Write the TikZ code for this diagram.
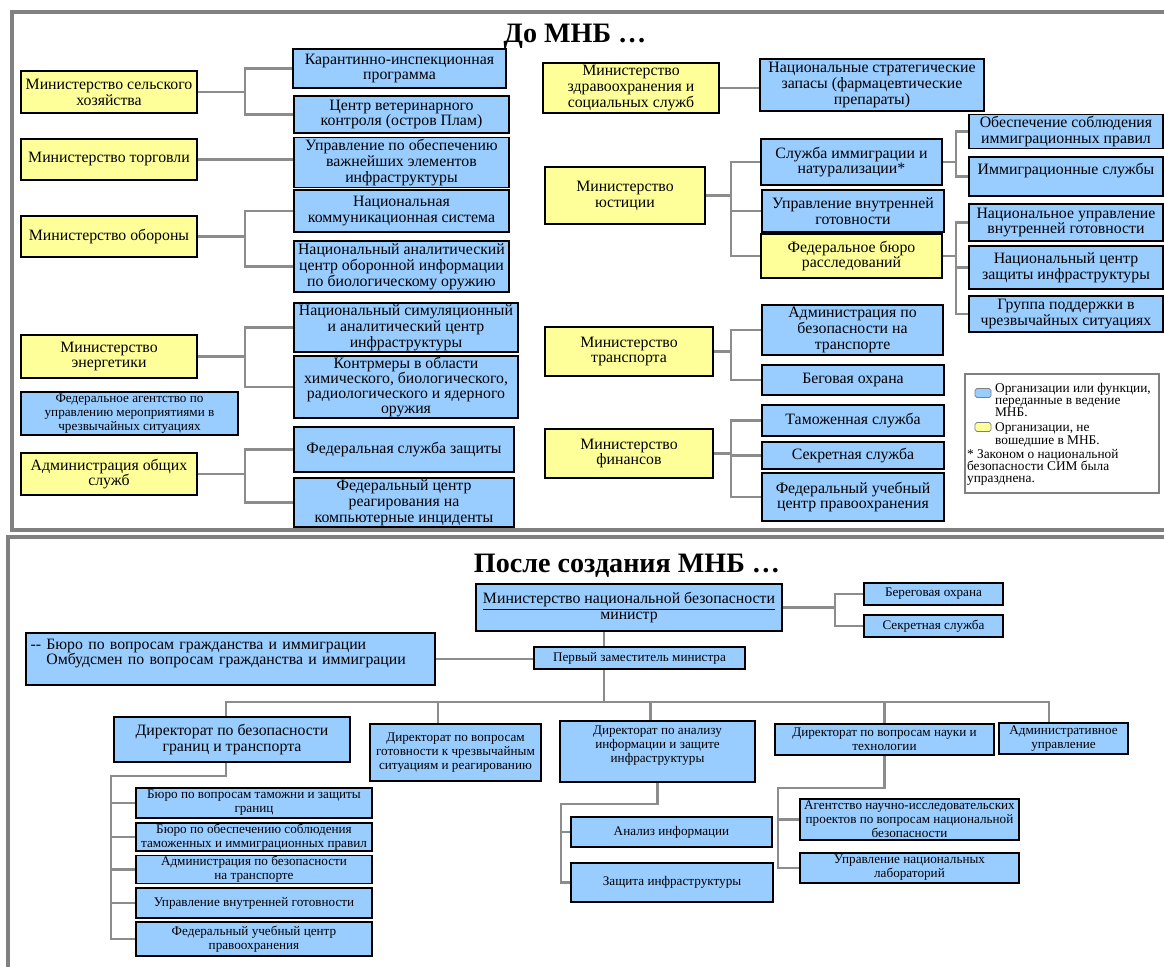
\documentclass[tikz,border=0pt]{standalone}
\usepackage{fontspec}
\setmainfont{Liberation Serif}
\definecolor{mnbblue}{RGB}{153,204,255}
\definecolor{mnbyel}{RGB}{255,255,153}
\definecolor{panelgray}{RGB}{128,128,128}
\tikzset{
    box/.style={draw=black,line width=0.9pt,align=center,inner sep=1pt,font=\fontsize{9}{9}\selectfont},
    blu/.style={box,fill=mnbblue},
    yel/.style={box,fill=mnbyel},
    smallf/.style={font=\fontsize{7.5}{8}\selectfont},
    legtext/.style={align=left,inner sep=1pt,font=\fontsize{7.6}{7}\selectfont},
    sz/.style 2 args={minimum width=#1*0.02cm,minimum height=#2*0.02cm},
    con/.style={draw=gray!90,line width=1.2pt},
    panel/.style={draw=panelgray,line width=1.8pt}
}

\begin{document}
\begin{tikzpicture}[x=0.02cm,y=-0.02cm]
  \clip (0,0) rectangle (1164,967);

  % frames and titles
  \draw[panel] (12,12) rectangle (1190,530);
  \draw[panel] (8,537) rectangle (1190,990);
  \node[font=\bfseries\fontsize{16}{16}\selectfont] (titlebefore) at (575,36) {До МНБ …};
  \node[font=\bfseries\fontsize{16}{16}\selectfont] (titleafter) at (627,566) {После создания МНБ …};

  % before: left half
  \node[yel,sz={176}{42}] (agr) at (109,92) {Министерство сельского\\хозяйства};
  \node[yel,sz={176}{41}] (trade) at (109,159.5) {Министерство торговли};
  \node[yel,sz={176}{41}] (def) at (109,236.5) {Министерство обороны};
  \node[yel,sz={176}{43}] (ener) at (109,356.5) {Министерство\\энергетики};
  \node[blu,smallf,sz={217}{41}] (fema) at (129.5,413.5) {Федеральное агентство по\\управлению мероприятиями в\\чрезвычайных ситуациях};
  \node[yel,sz={176}{42}] (gsa) at (109,474) {Администрация общих\\служб};

  \node[blu,sz={213}{39}] (kip) at (399.5,68.5) {Карантинно-инспекционная\\программа};
  \node[blu,sz={215}{37}] (plum) at (401.5,114.5) {Центр ветеринарного\\контроля (остров Плам)};
  \node[blu,sz={215}{45}] (ciao) at (401.5,162.5) {Управление по обеспечению\\важнейших элементов\\инфраструктуры};
  \node[blu,sz={215}{42}] (ncs) at (401.5,211) {Национальная\\коммуникационная система};
  \node[blu,sz={215}{51}] (nbacc) at (401.5,266.5) {Национальный аналитический\\центр оборонной информации\\по биологическому оружию};
  \node[blu,sz={224}{49}] (nisac) at (406,327.5) {Национальный симуляционный\\и аналитический центр\\инфраструктуры};
  \node[blu,sz={224}{60},font=\fontsize{9}{8.4}\selectfont] (cbrn) at (406,387) {Контрмеры в области\\химического, биологического,\\радиологического и ядерного\\оружия};
  \node[blu,sz={220}{45}] (fps) at (404,449.5) {Федеральная служба защиты};
  \node[blu,sz={220}{49}] (fedcirc) at (404,502.5) {Федеральный центр\\реагирования на\\компьютерные инциденты};

  \draw[con] (agr.east) -- +(47,0) |- (kip.west);
  \draw[con] (agr.east) -- +(47,0) |- (plum.west);
  \draw[con] (trade.east) -- (trade.east -| ciao.west);
  \draw[con] (def.east) -- +(47,0) |- (ncs.west);
  \draw[con] (def.east) -- +(47,0) |- (nbacc.west);
  \draw[con] (ener.east) -- +(47,0) |- (nisac.west);
  \draw[con] (ener.east) -- +(47,0) |- (cbrn.west);
  \draw[con] (gsa.east) -- +(47,0) |- (fps.west);
  \draw[con] (gsa.east) -- +(47,0) |- (fedcirc.west);

  % before: right half
  \node[yel,sz={176}{50}] (hhs) at (631,88) {Министерство\\здравоохранения и\\социальных служб};
  \node[blu,sz={224}{52}] (sns) at (872,85) {Национальные стратегические\\запасы (фармацевтические\\препараты)};
  \node[yel,sz={160}{57}] (doj) at (625,195.5) {Министерство\\юстиции};
  \node[blu,sz={181}{46}] (ins) at (851.5,162) {Служба иммиграции и\\натурализации*};
  \node[blu,sz={182}{42}] (odp) at (853,211) {Управление внутренней\\готовности};
  \node[yel,sz={181}{44}] (fbi) at (851.5,256) {Федеральное бюро\\расследований};
  \node[blu,sz={194}{33}] (immenf) at (1066,131.5) {Обеспечение соблюдения\\иммиграционных правил};
  \node[blu,sz={194}{39}] (immsvc) at (1066,176.5) {Иммиграционные службы\\~};
  \node[blu,sz={194}{37}] (nodp) at (1066,222.5) {Национальное управление\\внутренней готовности};
  \node[blu,sz={194}{43}] (nipc) at (1066,267.5) {Национальный центр\\защиты инфраструктуры};
  \node[blu,sz={194}{36}] (fest) at (1066,314) {Группа поддержки в\\чрезвычайных ситуациях};
  \node[yel,sz={168}{49}] (dot) at (629,351.5) {Министерство\\транспорта};
  \node[blu,sz={181}{50}] (tsa) at (852.5,330) {Администрация по\\безопасности на\\транспорте};
  \node[blu,sz={182}{30}] (cg) at (853,380) {Беговая охрана};
  \node[yel,sz={168}{49}] (treas) at (629,453.5) {Министерство\\финансов};
  \node[blu,sz={182}{31}] (cust) at (853,420.5) {Таможенная служба};
  \node[blu,sz={182}{27}] (ss) at (853,455.5) {Секретная служба};
  \node[blu,sz={182}{48}] (fletc) at (853,497) {Федеральный учебный\\центр правоохранения};

  \draw[con] (hhs.east) -- (hhs.east -| sns.west);
  \foreach \t in {ins,odp,fbi} \draw[con] (doj.east) -- +(25,0) |- (\t.west);
  \foreach \t in {immenf,immsvc} \draw[con] (ins.east) -- +(13,0) |- (\t.west);
  \foreach \t in {nodp,nipc,fest} \draw[con] (fbi.east) -- +(13,0) |- (\t.west);
  \foreach \t in {tsa,cg} \draw[con] (dot.east) -- +(17,0) |- (\t.west);
  \foreach \t in {cust,ss,fletc} \draw[con] (treas.east) -- +(17,0) |- (\t.west);

  % legend
  \node[draw=gray,line width=1.2pt,fill=white,sz={194}{119}] (legend) at (1062,433.5) {};
  \node[draw=gray,fill=mnbblue,rounded corners=1pt,inner sep=0pt,sz={16}{9}] (keyblue) at (983,393) {};
  \node[draw=gray,fill=mnbyel,rounded corners=1pt,inner sep=0pt,sz={16}{9}] (keyyel) at (983,427) {};
  \node[legtext,anchor=north west] (keybluetext) at (993,381) {Организации или функции,\\переданные в ведение\\МНБ.};
  \node[legtext,anchor=north west] (keyyeltext) at (993,421) {Организации, не\\вошедшие в МНБ.};
  \node[legtext,anchor=north west] (keynote) at (965,447) {* Законом о национальной\\безопасности СИМ была\\упразднена.};

  % after
  \node[blu,sz={306}{47}] (min) at (629,607.5) {\underline{Министерство национальной безопасности}\\министр};
  \node[blu,smallf,sz={211}{22}] (dep) at (639.5,658) {Первый заместитель министра};
  \node[blu,align=left,text width=8.0cm,sz={409}{52},font=\fontsize{9}{8.6}\selectfont] (cis) at (230.5,659) {-{}- Бюро по вопросам гражданства и иммиграции\\\phantom{-{}-} Омбудсмен по вопросам гражданства и иммиграции\\~};
  \node[blu,smallf,sz={139}{22}] (cg2) at (933.5,594) {Береговая охрана};
  \node[blu,smallf,sz={139}{22}] (ss2) at (933.5,626) {Секретная служба};

  \node[blu,sz={236}{45},font=\fontsize{9}{9.6}\selectfont] (dbt) at (232,739.5) {Директорат по безопасности\\границ и транспорта};
  \node[blu,smallf,sz={171}{57}] (edr) at (455.5,752.5) {Директорат по вопросам\\готовности к чрезвычайным\\ситуациям и реагированию};
  \node[blu,smallf,sz={195}{61}] (diaz) at (657.5,751.5) {Директорат по анализу\\информации и защите\\инфраструктуры\\~};
  \node[blu,smallf,sz={219}{31}] (sci) at (884.5,739.5) {Директорат по вопросам науки и\\технологии};
  \node[blu,smallf,sz={129}{31}] (adm) at (1063.5,738.5) {Административное\\управление};

  \node[blu,smallf,inner sep=0.5pt,sz={236}{30}] (cbp) at (254,803) {Бюро по вопросам таможни и защиты\\границ};
  \node[blu,smallf,inner sep=0.5pt,sz={236}{28}] (ice) at (254,837) {Бюро по обеспечению соблюдения\\таможенных и иммиграционных правил};
  \node[blu,smallf,inner sep=0.5pt,sz={236}{27}] (tsa2) at (254,869.5) {Администрация по безопасности\\на транспорте};
  \node[blu,smallf,inner sep=0.5pt,sz={236}{30}] (odp2) at (254,903) {Управление внутренней готовности};
  \node[blu,smallf,inner sep=0.5pt,sz={236}{34}] (fletc2) at (254,939) {Федеральный учебный центр\\правоохранения};
  \node[blu,smallf,sz={201}{30}] (ia) at (671.5,832) {Анализ информации};
  \node[blu,smallf,sz={202}{39}] (ip) at (672,882.5) {Защита инфраструктуры};
  \node[blu,smallf,inner sep=0.5pt,sz={219}{41}] (hsarpa) at (909.5,819.5) {Агентство научно-исследовательских\\проектов по вопросам национальной\\безопасности};
  \node[blu,smallf,sz={219}{30}] (nl) at (909.5,868) {Управление национальных\\лабораторий};

  \coordinate (trunk) at (604,702);
  \draw[con] (min.south -| trunk) -- (dep.north -| trunk);
  \draw[con] (dep.south -| trunk) -- (trunk);
  \draw[con] (cis.east) -- (cis.east -| dep.west);
  \draw[con] (min.east) -- +(52,0) |- (cg2.west);
  \draw[con] (min.east) -- +(52,0) |- (ss2.west);
  \draw[con] ([xshift=-0.12cm]dbt.north) |- (trunk) -| ([xshift=-0.29cm]adm.north);
  \draw[con] ([xshift=-0.35cm]edr.north) -- ([xshift=-0.35cm]edr.north |- trunk);
  \draw[con] ([xshift=-0.14cm]diaz.north) -- ([xshift=-0.14cm]diaz.north |- trunk);
  \draw[con] (sci.north) -- (sci.north |- trunk);

  \coordinate (dbtj) at (111,776);
  \draw[con] ([xshift=-0.12cm]dbt.south) |- (dbtj) |- (fletc2.west);
  \foreach \b in {cbp,ice,tsa2,odp2} \draw[con] (dbtj |- \b.west) -- (\b.west);
  \coordinate (diazj) at (561,804);
  \draw[con] (diaz.south) |- (diazj) |- (ip.west);
  \draw[con] (diazj |- ia.west) -- (ia.west);
  \coordinate (scij) at (778,788);
  \draw[con] (sci.south) |- (scij) |- (nl.west);
  \draw[con] (scij |- hsarpa.west) -- (hsarpa.west);
\end{tikzpicture}
\end{document}
